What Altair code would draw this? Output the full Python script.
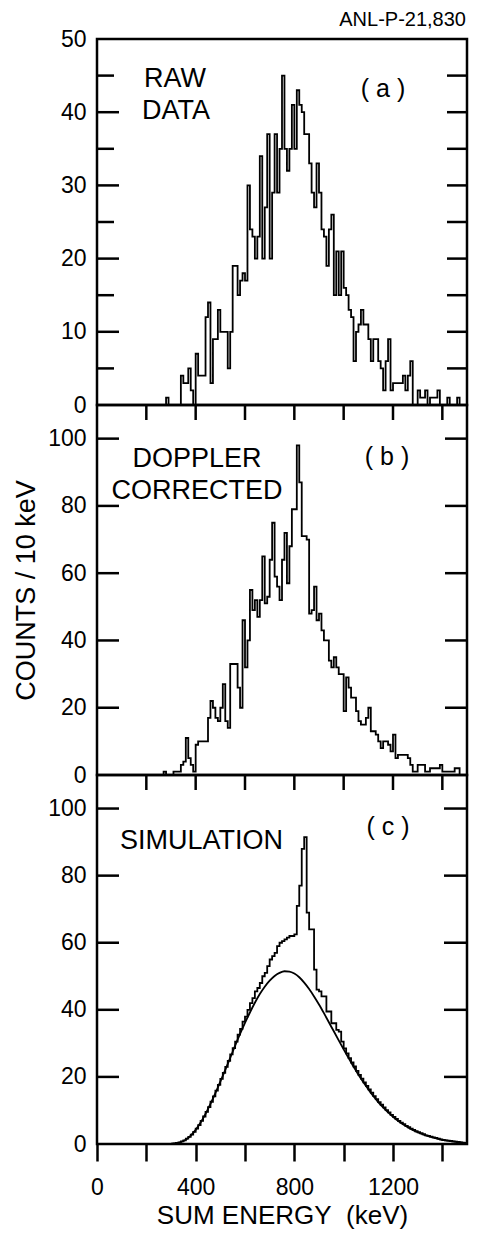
import altair as alt
import pandas as pd

FONT = "Liberation Sans"

# ---------------- data (counts per 10 keV bin) ----------------
a_energy = list(range(260, 1480, 10))
a_counts = [0, 0, 1, 0, 0, 0, 0, 0, 4, 3,
            3, 5, 2, 0, 7, 4, 4, 4, 12, 14,
            3, 9, 9, 13, 10, 10, 10, 5, 10, 19,
            19, 15, 17, 18, 17, 30, 24, 23, 20, 23,
            34, 20, 27, 37, 20, 29, 37, 29, 35, 45,
            35, 32, 35, 41, 35, 43, 41, 40, 37, 37,
            33, 29, 27, 33, 29, 24, 23, 19, 24, 26,
            15, 21, 15, 21, 16, 15, 13, 12, 6, 10,
            11, 13, 11, 11, 9, 6, 9, 9, 6, 5,
            2, 6, 9, 2, 3, 3, 3, 3, 4, 2,
            4, 6, 0, 0, 2, 1, 1, 2, 0, 1,
            1, 1, 2, 0, 0, 0, 1, 0, 0, 0,
            1, 0]

b_energy = list(range(260, 1480, 10))
b_counts = [0, 1, 0, 0, 0, 1, 1, 1, 3, 4,
            11, 5, 3, 1, 9, 10, 10, 10, 10, 17,
            22, 20, 17, 16, 20, 27, 16, 14, 33, 33,
            33, 26, 20, 46, 32, 40, 55, 49, 52, 47,
            52, 65, 51, 53, 64, 75, 59, 56, 52, 64,
            72, 57, 68, 79, 79, 98, 87, 71, 71, 70,
            48, 49, 56, 46, 48, 43, 40, 40, 34, 32,
            35, 32, 30, 30, 19, 29, 26, 23, 23, 19,
            16, 15, 15, 17, 20, 13, 13, 12, 10, 8,
            10, 10, 9, 7, 12, 5, 6, 6, 6, 6,
            5, 3, 1, 1, 3, 3, 3, 1, 1, 2,
            2, 2, 2, 3, 1, 1, 1, 1, 1, 2,
            2, 0]

c_energy = list(range(300, 1500, 10))
c_counts = [0.1, 0.2, 0.3, 0.5, 0.8, 1.1, 1.6, 2.1, 2.8, 3.6,
            4.6, 5.6, 6.9, 8.2, 9.6, 11.0, 12.6, 14.2, 15.9, 17.6,
            19.4, 21.2, 23.0, 24.8, 26.7, 28.6, 30.5, 32.6, 34.3, 36.5,
            38.0, 40.0, 42.0, 43.5, 45.5, 46.5, 48.0, 50.0, 51.0, 53.0,
            55.0, 56.0, 57.0, 59.0, 60.0, 60.5, 61.0, 61.5, 62.0, 62.0,
            62.5, 71.0, 77.0, 88.0, 91.5, 69.0, 64.0, 64.0, 52.0, 46.0,
            45.5, 44.0, 44.0, 39.5, 39.5, 36.0, 36.0, 34.0, 33.5, 30.5,
            28.5, 27.0, 25.6, 24.3, 23.1, 21.8, 20.6, 19.5, 18.4, 17.3,
            16.3, 15.3, 14.3, 13.4, 12.5, 11.7, 10.9, 10.1, 9.4, 8.7,
            8.1, 7.5, 6.9, 6.4, 5.9, 5.4, 5.0, 4.6, 4.2, 3.8,
            3.5, 3.2, 2.9, 2.6, 2.4, 2.2, 2.0, 1.8, 1.6, 1.4,
            1.2, 1.1, 1.0, 0.9, 0.8, 0.7, 0.6, 0.5, 0.4, 0.3]

fit_energy = list(range(300, 1520, 20))
fit_counts = [0.0, 0.2, 0.6, 1.3, 2.5, 4.2, 6.4, 9.0, 12.0, 15.2,
              18.6, 22.1, 25.7, 29.3, 32.8, 36.1, 39.2, 42.1, 44.7, 46.9,
              48.7, 50.1, 51.0, 51.5, 51.4, 50.8, 49.7, 48.1, 46.2, 44.0,
              41.6, 39.0, 36.3, 33.6, 30.9, 28.2, 25.6, 23.1, 20.6, 18.4,
              16.3, 14.3, 12.5, 10.9, 9.4, 8.1, 6.9, 5.9, 5.0, 4.2,
              3.5, 2.9, 2.4, 2.0, 1.6, 1.2, 1.0, 0.8, 0.6, 0.4,
              0.3]

# tick / label values
x_tick_values = [0, 200, 400, 600, 800, 1000, 1200, 1400]
x_inner_ticks = [200, 400, 600, 800, 1000, 1200, 1400]
a_label_values = [0, 10, 20, 30, 40, 50]
a_major_ticks = [10, 20, 30, 40]
a_minor_ticks = [5, 15, 25, 35, 45]
a_right_ticks = [5, 10, 15, 20, 25, 30, 35, 40, 45]
bc_label_values = [0, 20, 40, 60, 80, 100]
bc_ticks = [20, 40, 60, 80, 100]

W = 370
H_A, H_B, H_C = 366, 370, 369
TICK_W = 2.5
LINE_W = 1.8

xs = alt.Scale(domain=[0, 1500], nice=False, zero=False)


def tick_df(vals, col):
    return pd.DataFrame({col: vals})


def make_panel(hist_frames, ydom, height, ylabels, ytitle, left_long, left_short,
               right_vals, right_len, top_ticks, xaxis, texts, smooth=None):
    ys = alt.Scale(domain=ydom, nice=False, zero=False)
    yaxis = alt.Axis(values=ylabels, ticks=False, tickSize=0, domain=False, grid=False,
                     labelPadding=11, labelFontSize=23, labelOverlap=False,
                     title=ytitle, titleFontSize=27, titlePadding=7,
                     titleFontWeight="normal")
    X = alt.X("E:Q", scale=xs, axis=xaxis)
    Y = alt.Y("c:Q", scale=ys, axis=yaxis)
    layers = []
    for df in hist_frames:
        layers.append(alt.Chart(df).mark_line(interpolate="step-after", color="black",
                                               strokeWidth=LINE_W).encode(x=X, y=Y))
    if smooth is not None:
        layers.append(alt.Chart(smooth).mark_line(interpolate="monotone", color="black",
                                                   strokeWidth=LINE_W).encode(x=X, y=Y))
    rule = dict(color="black", strokeWidth=TICK_W)
    if left_long:
        layers.append(alt.Chart(tick_df(left_long, "c")).mark_rule(**rule).encode(
            y=Y, x=alt.value(0), x2=alt.value(22)))
    if left_short:
        layers.append(alt.Chart(tick_df(left_short, "c")).mark_rule(**rule).encode(
            y=Y, x=alt.value(0), x2=alt.value(17)))
    if right_vals:
        layers.append(alt.Chart(tick_df(right_vals, "c")).mark_rule(**rule).encode(
            y=Y, x=alt.value(W - right_len), x2=alt.value(W)))
    if top_ticks:
        layers.append(alt.Chart(tick_df(top_ticks, "E")).mark_rule(**rule).encode(
            x=X, y=alt.value(0), y2=alt.value(15)))
    for (t, tx, ty, align, size) in texts:
        layers.append(alt.Chart(pd.DataFrame({"t": [t]})).mark_text(
            align=align, baseline="alphabetic", font=FONT, fontSize=size,
            color="black").encode(x=alt.value(tx), y=alt.value(ty), text="t:N"))
    return alt.layer(*layers).properties(width=W, height=height)


df_a = pd.DataFrame({"E": a_energy, "c": a_counts})
df_b = pd.DataFrame({"E": b_energy, "c": b_counts})
df_c = pd.DataFrame({"E": c_energy, "c": c_counts})
df_fit = pd.DataFrame({"E": fit_energy, "c": fit_counts})

bottom_axis = alt.Axis(values=x_tick_values,
                       labelExpr="datum.value % 400 == 0 ? datum.label : ''",
                       format="d", tickSize=17, tickWidth=TICK_W, tickColor="black",
                       domain=False, grid=False, labelFontSize=23, labelPadding=15,
                       labelFlush=False, labelOverlap=False,
                       title="SUM ENERGY\u00a0\u00a0(keV)", titleFontSize=26,
                       titleFontWeight="normal", titlePadding=3)

panel_a = make_panel([df_a], [0, 50], H_A, a_label_values, None,
                     a_major_ticks, a_minor_ticks, a_right_ticks, 20, None, None,
                     [("RAW", 78, 48, "center", 27), ("DATA", 79, 80, "center", 27),
                      ("( a )", 286, 58, "center", 25),
                      ("ANL-P-21,830", 369, -13, "right", 20)])

panel_b = make_panel([df_b], [0, 110], H_B, bc_label_values, "COUNTS / 10 keV",
                     bc_ticks, None, bc_ticks, 22, x_inner_ticks, None,
                     [("DOPPLER", 100, 62, "center", 27), ("CORRECTED", 100, 94, "center", 27),
                      ("( b )", 290, 60, "center", 25)])

panel_c = make_panel([df_c], [0, 110], H_C, bc_label_values, None,
                     bc_ticks, None, bc_ticks, 23, x_inner_ticks, bottom_axis,
                     [("SIMULATION", 23, 74, "left", 27), ("( c )", 291, 60, "center", 25)],
                     smooth=df_fit)

chart = alt.vconcat(panel_a, panel_b, panel_c, spacing=0, bounds="flush").properties(
    padding={"left": 3, "top": 0, "right": 0, "bottom": 0},
    background="white",
).configure_view(
    stroke="black", strokeWidth=2.5
).configure_axis(
    labelFont=FONT, titleFont=FONT, labelColor="black", titleColor="black"
)

chart.save("out.html", embed_options={"renderer": "svg", "actions": False})
